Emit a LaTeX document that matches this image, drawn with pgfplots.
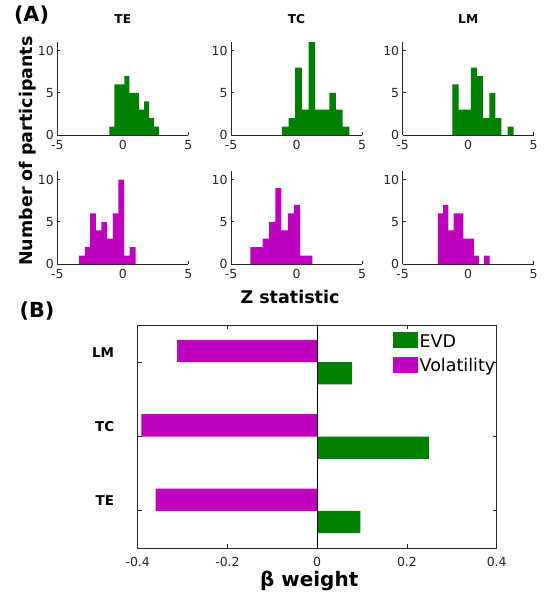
\documentclass[border=0pt]{standalone}
\usepackage{fontspec}
\setmainfont{DejaVu Sans}
\usepackage{pgfplots}
\pgfplotsset{compat=1.18}

\definecolor{evdgreen}{RGB}{0,128,0}
\definecolor{volmag}{RGB}{191,0,191}
\definecolor{axgray}{RGB}{38,38,38}

\newcommand{\fs}[1]{\fontsize{#1}{#1}\selectfont}

\pgfplotsset{
  hist/.style={
    scale only axis, width=131pt, height=92.8pt,
    anchor=south west,
    xmin=-5, xmax=5, ymin=0, ymax=11,
    xtick={-5,0,5}, ytick={0,5,10},
    axis lines*=left,
    axis line style={axgray, line width=0.9pt},
    tick style={axgray, line width=0.7pt},
    tick align=inside, major tick length=3pt,
    ticklabel style={font=\fs{12.5}, text=axgray},
    xticklabel style={yshift=-1.5pt},
    /pgf/number format/assume math mode=true,
    title style={font=\bfseries\fs{12.2}, yshift=9pt},
  },
  hbar/.style={ybar interval, draw=none, fill=#1},
}

\begin{document}
\begin{tikzpicture}
\useasboundingbox (0,0) rectangle (547pt,-592pt);

% ---- Panel A: histograms of Z statistics ----
% top row: EVD
\begin{axis}[hist, at={(57.3pt,-135pt)}, title={TE}]
\addplot[hbar=evdgreen] coordinates {
  (-1.02,1)(-0.64,6)(-0.26,6)(0.12,7)(0.50,5)(0.88,5)
  (1.25,3)(1.63,4)(2.01,2)(2.39,1)(2.77,1)
};
\end{axis}
\begin{axis}[hist, at={(231pt,-135pt)}, title={TC}]
\addplot[hbar=evdgreen] coordinates {
  (-1.12,1)(-0.61,2)(-0.10,8)(0.41,3)(0.92,11)(1.43,3)
  (1.94,3)(2.50,5)(3.01,3)(3.52,1)(4.03,1)
};
\end{axis}
\begin{axis}[hist, at={(402.7pt,-135pt)}, title={LM}]
\addplot[hbar=evdgreen] coordinates {
  (-1.20,6)(-0.74,3)(-0.28,3)(0.20,8)(0.66,7)(1.12,2)
  (1.61,5)(2.07,2)(2.53,0)(3.01,1)(3.47,1)
};
\end{axis}
% bottom row: volatility
\begin{axis}[hist, at={(57.3pt,-264pt)}]
\addplot[hbar=volmag] coordinates {
  (-3.33,1)(-2.90,2)(-2.49,6)(-2.06,4)(-1.63,5)(-1.20,3)
  (-0.76,6)(-0.33,10)(0.10,1)(0.53,2)(0.97,2)
};
\end{axis}
\begin{axis}[hist, at={(231pt,-264pt)}]
\addplot[hbar=volmag] coordinates {
  (-3.52,2)(-3.04,2)(-2.58,3)(-2.09,5)(-1.61,9)(-1.15,4)
  (-0.66,6)(-0.20,7)(0.28,1)(0.74,1)(1.22,1)
};
\end{axis}
\begin{axis}[hist, at={(402.7pt,-264pt)}]
\addplot[hbar=volmag] coordinates {
  (-2.32,6)(-1.91,7)(-1.51,4)(-1.12,6)(-0.74,6)(-0.36,3)
  (0.05,3)(0.43,1)(0.82,0)(1.22,1)(1.63,1)
};
\end{axis}

\node[font=\bfseries\fs{20.7}] at (31.5pt,-15pt) {(A)};
\node[font=\bfseries\fs{17.5}, rotate=90] at (28pt,-151pt) {Number of participants};
\node[font=\bfseries\fs{17.5}] at (290pt,-297pt) {Z statistic};
\node[font=\bfseries\fs{20.7}] at (37pt,-311pt) {(B)};

% ---- Panel B: beta weights ----
\begin{axis}[
  scale only axis, width=359pt, height=223pt,
  at={(137.7pt,-548pt)}, anchor=south west,
  xmin=-0.4, xmax=0.4, ymin=0.5, ymax=3.5,
  xtick={-0.4,-0.2,0,0.2,0.4},
  ytick={1,2,3}, yticklabels={TE,TC,LM},
  tick align=inside, tick pos=both, major tick length=4pt,
  axis line style={axgray, line width=0.9pt},
  tick style={axgray, line width=0.7pt},
  xticklabel style={font=\fs{12.5}, text=axgray, yshift=-6pt},
  yticklabel style={font=\bfseries\fs{13.5}, yshift=10pt, xshift=-20pt},
  /pgf/number format/assume math mode=true,
  xlabel={β weight},
  xlabel style={font=\bfseries\fs{20}, xshift=-8pt, yshift=3pt},
  legend style={draw=none, fill=none, at={(0.711,0.968)}, anchor=north west,
    font=\fs{17.5}, row sep=6pt, inner sep=0pt},
  legend cell align=left,
  legend image code/.code={\fill[#1] (0pt,-7pt) rectangle (24.5pt,9pt);},
]
\addplot[xbar, bar width=0.3, bar shift=-0.15, fill=evdgreen, draw=none]
  coordinates {(0.096,1)(0.249,2)(0.078,3)};
\addlegendentry{EVD}
\addplot[xbar, bar width=0.3, bar shift=0.15, fill=volmag, draw=none]
  coordinates {(-0.360,1)(-0.392,2)(-0.312,3)};
\addlegendentry{Volatility}
\draw[black, line width=0.6pt] (axis cs:0,0.5) -- (axis cs:0,3.5);
\end{axis}
\end{tikzpicture}
\end{document}
